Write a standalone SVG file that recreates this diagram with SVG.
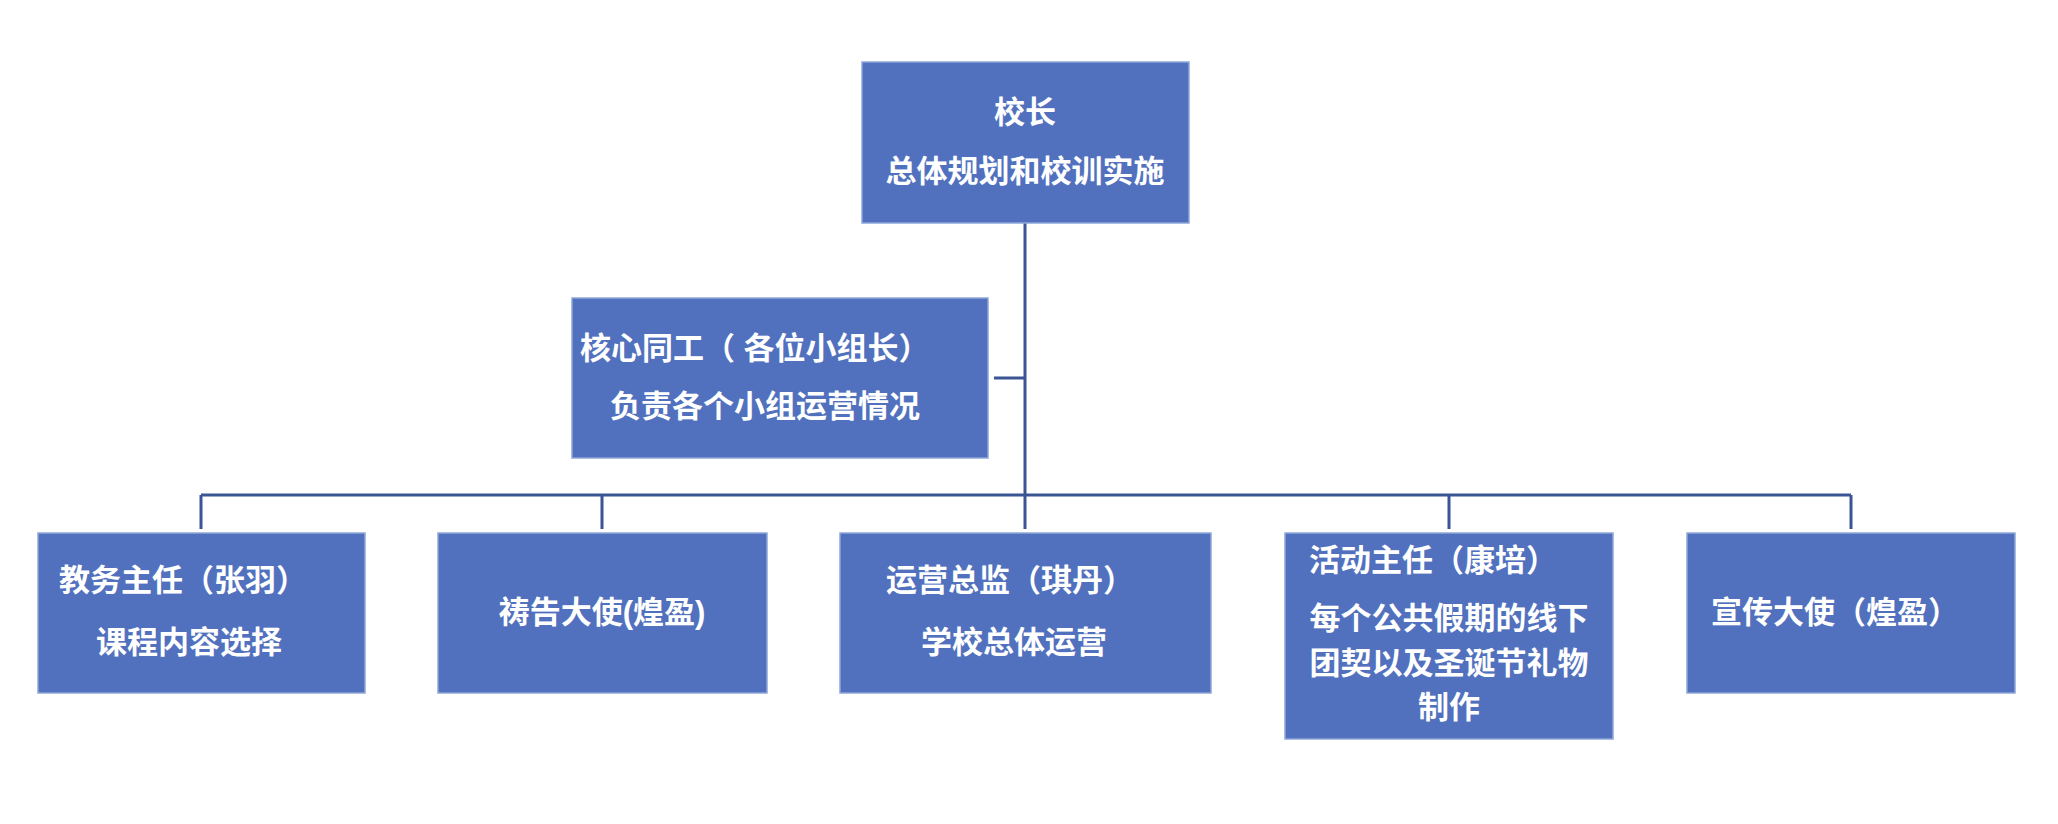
<svg xmlns="http://www.w3.org/2000/svg" width="2058" height="824" viewBox="0 0 2058 824">
<style>
.b{fill:#5171BE;stroke:#8fa6d8;stroke-width:1.5}
.t{font-family:"Liberation Sans","Noto Sans CJK SC",sans-serif;font-weight:bold;font-size:31px;fill:#fff}
.c{text-anchor:middle}
.l{stroke:#3A5594;stroke-width:3;fill:none}
</style>
<rect width="2058" height="824" fill="#fff"/>
<g id="connectors">
<path class="l" d="M1025 223V495M994 378H1025M201 495H1851M201 495V529M602 495V529M1025 495V529M1449 495V529M1851 495V529"/>
</g>
<g id="n0"><rect class="b" x="862" y="62" width="327" height="161"/>
<text class="t c" x="1025" y="123">校长</text><text class="t c" x="1025" y="182">总体规划和校训实施</text></g>
<g id="n1"><rect class="b" x="572" y="298" width="416" height="160"/>
<text class="t" x="580" y="359">核心同工（ 各位小组长）</text><text class="t" x="610" y="417">负责各个小组运营情况</text></g>
<g id="n2"><rect class="b" x="38" y="533" width="327" height="160"/>
<text class="t" x="59" y="591">教务主任（张羽）</text><text class="t" x="96" y="653">课程内容选择</text></g>
<g id="n3"><rect class="b" x="438" y="533" width="329" height="160"/>
<text class="t c" x="602" y="623">祷告大使(煌盈)</text></g>
<g id="n4"><rect class="b" x="840" y="533" width="371" height="160"/>
<text class="t" x="886" y="591">运营总监（琪丹）</text><text class="t" x="921" y="653">学校总体运营</text></g>
<g id="n5"><rect class="b" x="1285" y="533" width="328" height="206"/>
<text class="t" x="1309" y="571">活动主任（康培）</text>
<text class="t c" x="1449" y="629">每个公共假期的线下</text><text class="t c" x="1449" y="674">团契以及圣诞节礼物</text><text class="t c" x="1449" y="718">制作</text></g>
<g id="n6"><rect class="b" x="1687" y="533" width="328" height="160"/>
<text class="t" x="1711" y="623">宣传大使（煌盈）</text></g>
</svg>
